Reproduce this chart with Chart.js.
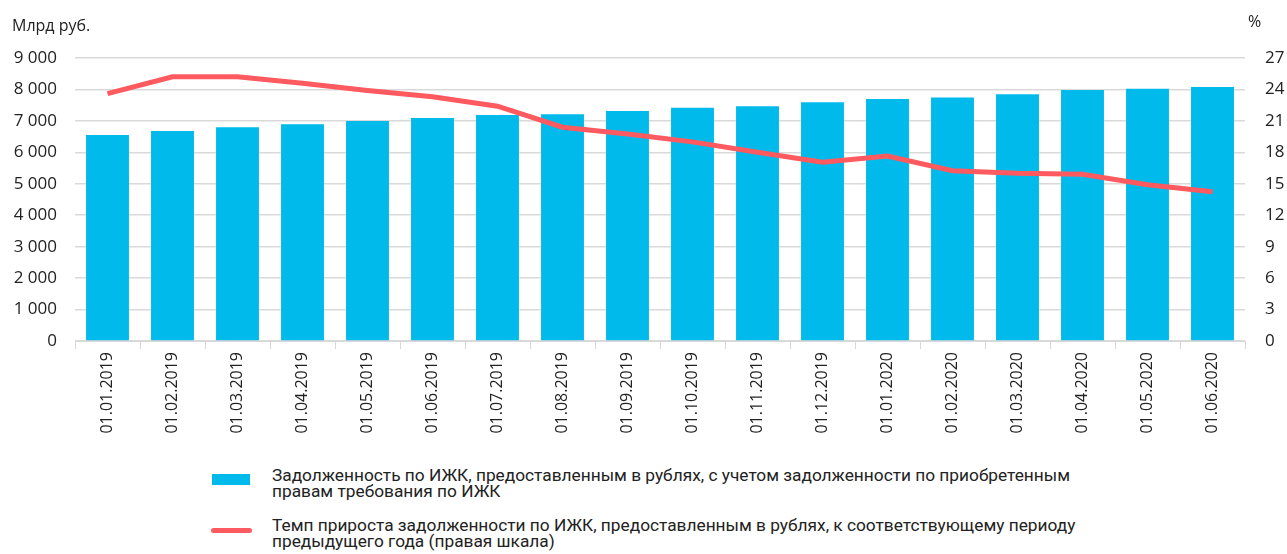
<!DOCTYPE html>
<html>
<head>
<meta charset="utf-8">
<script src="https://cdn.jsdelivr.net/npm/chart.js@4/dist/chart.umd.min.js"></script>
<style>
  body { margin: 0; background: #fff; font-family: 'Open Sans', sans-serif; }
  #wrap { position: relative; width: 1287px; height: 554px; }
  #chartBox { position: absolute; left: 0; top: 0; width: 1287px; height: 450px; }
  .unit { position: absolute; font-size: 16px; color: #222; }
  .legend { position: absolute; left: 0; font-family: Roboto, sans-serif; font-size: 17.3px; line-height: 16px; color: #222; }
  .legend .sw { position: absolute; }
  .legend .txt { position: absolute; left: 272px; white-space: nowrap; }
</style>
</head>
<body>
<div id="wrap">
  <div id="chartBox"><canvas id="mainChart"></canvas></div>
  <div class="unit" style="left:12px;top:14px;">Млрд руб.</div>
  <div class="unit" style="left:1248px;top:10px;">%</div>

  <div class="legend" style="top:467px;">
    <div class="sw" style="left:212px;top:7px;width:38px;height:11px;background:#00BAEC;"></div>
    <div class="txt">Задолженность по ИЖК, предоставленным в рублях, с учетом задолженности по приобретенным<br>правам требования по ИЖК</div>
  </div>
  <div class="legend" style="top:517px;">
    <div class="sw" style="left:211px;top:11px;width:41px;height:5px;border-radius:3px;background:#FF5A5F;"></div>
    <div class="txt">Темп прироста задолженности по ИЖК, предоставленным в рублях, к соответствующему периоду<br>предыдущего года (правая шкала)</div>
  </div>
</div>

<script>
// ---- данные ----
const dates = [
  '01.01.2019', '01.02.2019', '01.03.2019', '01.04.2019', '01.05.2019', '01.06.2019',
  '01.07.2019', '01.08.2019', '01.09.2019', '01.10.2019', '01.11.2019', '01.12.2019',
  '01.01.2020', '01.02.2020', '01.03.2020', '01.04.2020', '01.05.2020', '01.06.2020',
];
// задолженность, млрд руб.
const debt = [6550, 6680, 6800, 6890, 7000, 7090, 7190, 7210, 7315, 7420, 7465, 7590, 7697, 7740, 7850, 7983, 8025, 8079];
// темп прироста, %
const growth = [23.6, 25.2, 25.2, 24.6, 23.9, 23.3, 22.4, 20.4, 19.75, 19.0, 18.0, 17.05, 17.65, 16.25, 16.0, 15.9, 14.9, 14.25];

const leftTicks = [0, 1000, 2000, 3000, 4000, 5000, 6000, 7000, 8000, 9000];
const rightTicks = [0, 3, 6, 9, 12, 15, 18, 21, 24, 27];

const fmtThousands = v => String(v).replace(/\B(?=(\d{3})+(?!\d))/g, ' ');
const tickFont = { family: "'Open Sans', sans-serif", size: 17 };

new Chart(document.getElementById('mainChart'), {
  data: {
    labels: dates,
    datasets: [
      {
        type: 'line',
        label: 'Темп прироста',
        data: growth,
        yAxisID: 'yR',
        borderColor: '#FF5A5F',
        borderWidth: 5,
        pointRadius: 0,
        tension: 0,
        order: 0,
      },
      {
        type: 'bar',
        label: 'Задолженность',
        data: debt,
        yAxisID: 'yL',
        backgroundColor: '#00BAEC',
        barPercentage: 0.66,
        categoryPercentage: 1,
        order: 1,
      },
    ],
  },
  options: {
    responsive: true,
    maintainAspectRatio: false,
    animation: false,
    layout: { padding: { top: 58, left: 0, right: 0, bottom: 0 } },
    plugins: { legend: { display: false }, tooltip: { enabled: false } },
    scales: {
      x: {
        offset: true,
        grid: { offset: true, drawOnChartArea: false, tickLength: 8, color: '#d9d9d9' },
        border: { color: '#d9d9d9', width: 1 },
        ticks: { minRotation: 90, maxRotation: 90, padding: 3, color: '#222', font: { family: "'Open Sans', sans-serif", size: 16 } },
        afterFit: s => { s.height = 109; },
      },
      yL: {
        position: 'left',
        min: 0,
        max: 9000,
        afterBuildTicks: s => { s.ticks = leftTicks.map(v => ({ value: v })); },
        grid: { color: '#d9d9d9', lineWidth: 1.5, drawTicks: false },
        border: { display: false },
        ticks: { padding: 18, color: '#222', font: tickFont, callback: v => fmtThousands(v) },
        afterFit: s => { s.width = 75; },
      },
      yR: {
        position: 'right',
        min: 0,
        max: 27,
        afterBuildTicks: s => { s.ticks = rightTicks.map(v => ({ value: v })); },
        grid: { drawOnChartArea: false, drawTicks: false },
        border: { display: false },
        ticks: { padding: 20, color: '#222', font: tickFont },
        afterFit: s => { s.width = 42; },
      },
    },
  },
});
</script>
</body>
</html>
